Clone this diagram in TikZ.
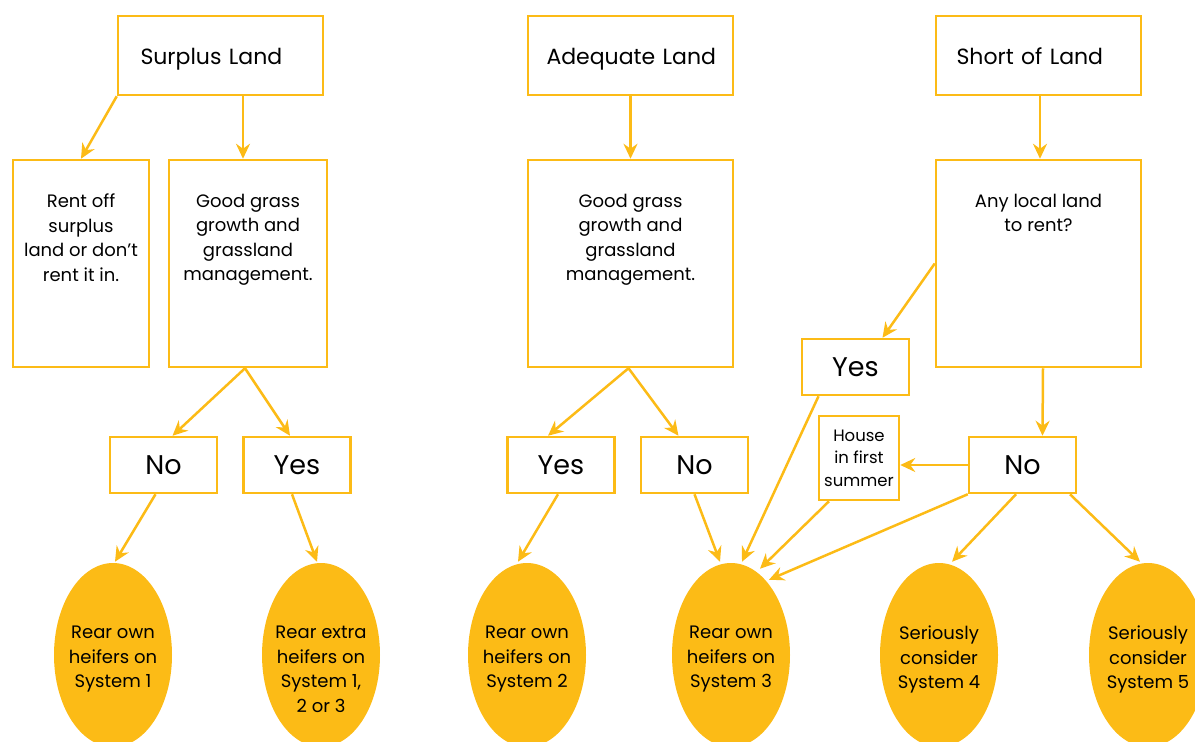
\documentclass[tikz,border=0pt]{standalone}
\usepackage{fontspec}
\setmainfont{Poppins}
\usetikzlibrary{arrows.meta,shapes.geometric}
\definecolor{gold}{RGB}{252,187,22}
\begin{document}
\begin{tikzpicture}[x=1pt, y=1pt,
    every node/.style={draw=gold, line width=2.5pt, inner sep=0pt, align=center, text=black},
    hdrbox/.style={minimum width=205pt, minimum height=79pt, text width=168pt, align=left, text height=18pt, text depth=0pt, font=\fontsize{22}{28}\selectfont},
    tallbox/.style={minimum height=207pt},
    boxtext/.style={draw=none, anchor=north, yshift=-34pt, font=\fontsize{18}{24.5}\selectfont},
    answer/.style={minimum width=107pt, minimum height=56pt, font=\fontsize{27}{32}\selectfont},
    outcome/.style={ellipse, draw=none, fill=gold, minimum width=118pt, minimum height=184pt},
    outtext/.style={draw=none, anchor=north, yshift=-63pt, font=\fontsize{18}{24.5}\selectfont},
    arr/.style={draw=gold, line width=2.5pt, -{Stealth[length=15pt, width=14pt, inset=5pt]}}]
        \clip (0,0) rectangle (1195,-742);
        \useasboundingbox (0,0) rectangle (1195,-742);

        \node[hdrbox] (sur) at (220.5,-55.5) {\hspace*{4pt}Surplus~Land};
        \node[hdrbox] (ade) at (630.5,-55.5) {Adequate~Land};
        \node[hdrbox] (sho) at (1038.5,-55.5) {\hspace*{2pt}Short~of~Land};

        \node[tallbox, minimum width=136pt, label={[boxtext]north:Rent off\\surplus\\land or don’t\\rent it in.}] (rent) at (81,-263.5) {};
        \node[tallbox, minimum width=158pt, label={[boxtext]north:Good grass\\growth and\\grassland\\management.}] (gl) at (248,-263.5) {};
        \node[tallbox, minimum width=205pt, label={[boxtext]north:Good grass\\growth and\\grassland\\management.}] (gm) at (630.5,-263.5) {};
        \node[tallbox, minimum width=205pt, label={[boxtext]north:Any local land\\to rent?}] (any) at (1038.5,-263.5) {};

        \node[answer] (nol) at (163.5,-465) {No};
        \node[answer] (yesl) at (297,-465) {Yes};
        \node[answer] (yesm) at (561,-465) {Yes};
        \node[answer] (nom) at (694.5,-465) {No};
        \node[answer] (yesr) at (855.5,-367) {Yes};
        \node[answer] (nor) at (1022.5,-465) {No};
        \node[minimum width=80pt, minimum height=84pt, font=\fontsize{16.5}{22.5}\selectfont] (house) at (859,-458) {House\\in first\\summer};

        \node[outcome, label={[outtext]north:Rear own\\heifers on\\System 1}] (e1) at (113,-655) {};
        \node[outcome, label={[outtext]north:Rear extra\\heifers on\\System 1,\\2 or 3}] (e2) at (321,-655) {};
        \node[outcome, label={[outtext]north:Rear own\\heifers on\\System 2}] (e3) at (527,-655) {};
        \node[outcome, label={[outtext]north:Rear own\\heifers on\\System 3}] (e4) at (731,-655) {};
        \node[outcome, label={[outtext]north:Seriously\\consider\\System 4}] (e5) at (939,-655) {};
        \node[outcome, label={[outtext]north:Seriously\\consider\\System 5}] (e6) at (1148,-655) {};

        \draw[arr] (sur.south west) -- (rent.north);
        \draw[arr] ([xshift=22.5pt]sur.south) -- ([xshift=-5pt]gl.north);
        \draw[arr] (ade.south) -- (gm.north);
        \draw[arr] ([xshift=1.5pt]sho.south) -- ([xshift=1.5pt]any.north);

        \draw[arr] ([xshift=-3pt]gl.south) -- ([xshift=9pt]nol.north);
        \draw[arr] ([xshift=-3pt]gl.south) -- ([xshift=-7pt]yesl.north);
        \draw[arr] ([xshift=-2pt]gm.south) -- ([xshift=-13pt]yesm.north);
        \draw[arr] ([xshift=-2pt]gm.south) -- ([xshift=-16pt]nom.north);
        \draw[arr] (any.west) -- ([xshift=27pt]yesr.north);
        \draw[arr] ([xshift=4.5pt]any.south) -- ([xshift=20pt]nor.north);
        \draw[arr] (nor.west) -- (house.east |- nor.west);

        \draw[arr] ([xshift=-8pt]nol.south) -- ([xshift=2pt]e1.north);
        \draw[arr] ([xshift=-5pt]yesl.south) -- ([xshift=-4pt]e2.north);
        \draw[arr] ([xshift=-3pt]yesm.south) -- ([xshift=-9pt]e3.north);
        \draw[arr] (nom.south) -- ([xshift=-11pt]e4.north);
        \draw[arr] ([xshift=-37pt]yesr.south) -- ([xshift=11pt]e4.north);
        \draw[arr] ([xshift=-30pt]house.south) -- ([xshift=29pt,yshift=-7pt]e4.north);
        \draw[arr] (nor.south west) -- ([xshift=38pt,yshift=-18pt]e4.north);
        \draw[arr] ([xshift=-6.5pt]nor.south) -- ([xshift=13pt]e5.north);
        \draw[arr] ([xshift=47.5pt]nor.south) -- ([xshift=-8pt]e6.north);
    \end{tikzpicture}
\end{document}
